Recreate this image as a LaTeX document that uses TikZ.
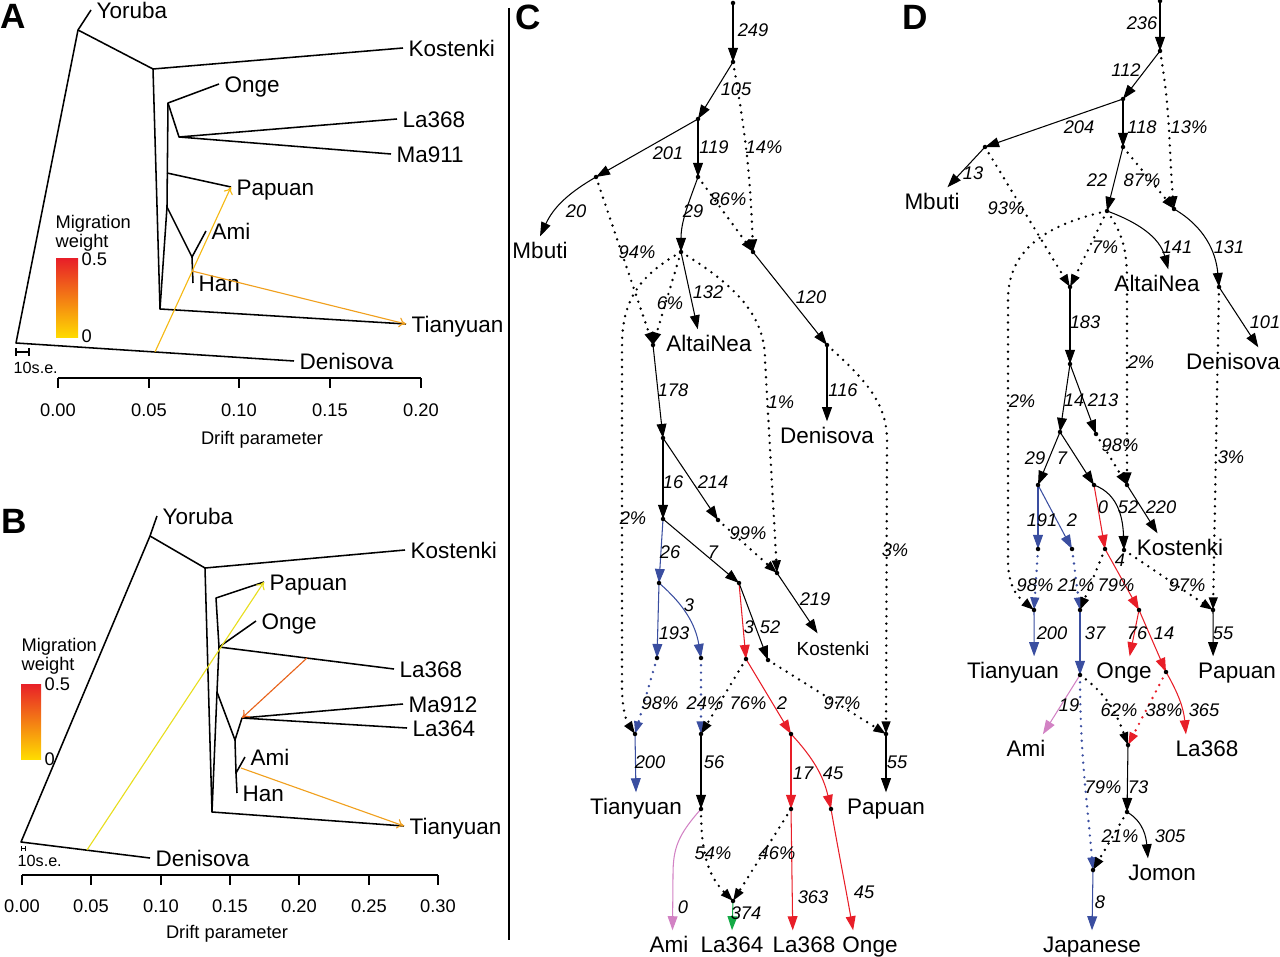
\documentclass[tikz,border=0pt]{standalone}
\usepackage{fontspec}
\setmainfont{Liberation Sans}
\usetikzlibrary{arrows.meta, positioning}
\definecolor{edgeblue}{RGB}{58,78,160}
\definecolor{edgered}{RGB}{232,30,40}
\definecolor{edgepink}{RGB}{210,130,196}
\definecolor{edgegreen}{RGB}{20,170,70}
\definecolor{migyellow}{RGB}{245,185,20}
\definecolor{migorange}{RGB}{240,160,30}
\definecolor{limeyellow}{RGB}{232,222,30}
\definecolor{migred}{RGB}{232,100,28}
\definecolor{barred}{RGB}{232,32,40}
\definecolor{baryellow}{RGB}{255,220,0}

\begin{document}
\begin{tikzpicture}[
  x=0.025cm, y=-0.025cm,
  font       = \fontsize{16}{18}\selectfont,
  % pixel grid of the figure: 1 unit = 1 px, y grows downwards
  panel/.style  = {font=\fontsize{25}{25}\selectfont\bfseries, inner sep=0pt},
  taxon/.style  = {inner sep=1pt, outer sep=3pt, text height=11.5pt, text depth=0pt},
  branch/.style = {line width=1.1pt, line join=round},
  migr/.style   = {line width=0.8pt, -{To[length=5pt,width=7pt]}},
  small/.style  = {font=\fontsize{13}{13.5}\selectfont, inner sep=1pt},
  elab/.style   = {font=\fontsize{13}{15}\selectfont\itshape, inner sep=0pt},
  edge/.style   = {line width=0.75pt, -{Triangle[length=10pt,width=7pt]}},
  mix/.style    = {line width=1.9pt, line cap=round, dash pattern=on 0pt off 5.2pt,
                   -{Triangle[length=9pt,width=6pt]}},
]
\useasboundingbox (0,0) rectangle (1280,957);

% ── Panel A: TreeMix tree ──────────────────────────────────────────────
\node[panel] (pA) at (13,16) {A};
\coordinate (aRoot) at (16,343);
\coordinate (aYor)  at (78,30);
\coordinate (aKos)  at (153,69);
\coordinate (aTia)  at (160,309);
\coordinate (aAmi)  at (167,207);
\coordinate (aPap)  at (167,173);
\coordinate (aOng)  at (168,103);
\coordinate (aLa)   at (179,137);
\coordinate (aHan)  at (192,257);
\coordinate (aDenM) at (155,352);
\coordinate (aHanM) at (192,271);

\node[taxon, anchor=west] (yorA)   at (91,10)   {Yoruba};
\node[taxon, anchor=west] (kosA)   at (403,48)  {Kostenki};
\node[taxon, anchor=west] (ongA)   at (219,84)  {Onge};
\node[taxon, anchor=west] (la368A) at (397,119) {La368};
\node[taxon, anchor=west] (ma911A) at (391,154) {Ma911};
\node[taxon, anchor=west] (papA)   at (231,187) {Papuan};
\node[taxon, anchor=west] (amiA)   at (206,231) {Ami};
\node[taxon, anchor=west] (hanA)   at (193,283) {Han};
\node[taxon, anchor=west] (tiaA)   at (406,324) {Tianyuan};
\node[taxon, anchor=west] (denA)   at (294,361) {Denisova};

\draw[branch] (yorA.west) -- (aYor) -- (aRoot) -- (denA.west);
\draw[branch] (aYor) -- (aKos) -- (kosA.west);
\draw[branch] (aKos) -- (aTia) -- (tiaA.west);
\draw[branch] (aTia) -- (aAmi) -- (aOng) -- (ongA.west);
\draw[branch] (aOng) -- (aLa) -- (la368A.west);
\draw[branch] (aLa) -- (ma911A.west);
\draw[branch] (aPap) -- (papA.west);
\draw[branch] (aAmi) -- (aHan) -- (amiA.west);
\draw[branch] (aHan) -- (hanA.west);
\draw[migr, migyellow] (aDenM) -- (papA.west);
\draw[migr, migorange] (aHanM) -- (tiaA.west);

\shade[top color=barred, bottom color=baryellow] (56,259) rectangle (78,338);
\node[small, anchor=west] (barA1) at (80,259) {0.5};
\node[small, anchor=west] (barA0) at (80,336) {0};
\node[small, anchor=west, align=left] (migA) at (54,233) {Migration\\weight};

\draw[line width=0.8pt] (16,348) -- (16,356) (16,352) -- (29,352) (29,348) -- (29,356);
\node[small, anchor=west, font=\fontsize{11.5}{12}\selectfont] (seA) at (12,368) {10s.e.};

\draw[branch] (58,378) -- (421,378);
\foreach \x/\t [count=\i] in {58/0.00, 149/0.05, 239/0.10, 330/0.15, 421/0.20}{
  \draw[branch] (\x,378) -- (\x,388);
  \node[small] (tickA\i) at (\x,410) {\t};
}
\node[small] (xlabA) at (262,440) {Drift parameter};

% ── Panel B: TreeMix tree, second set ──────────────────────────────────
\node[panel] (pB) at (14,521) {B};
\coordinate (bRoot) at (21,842);
\coordinate (bYor)  at (150,536);
\coordinate (bKos)  at (205,568);
\coordinate (bTia)  at (212,812);
\coordinate (bPap)  at (216,598);
\coordinate (bOng)  at (219,647);
\coordinate (bLow)  at (217,692);
\coordinate (bMid)  at (235,740);
\coordinate (bMa)   at (242,718);
\coordinate (bAmi)  at (236,773);
\coordinate (bDenM) at (87,850);
\coordinate (bLaM)  at (307,658);
\coordinate (bAmiM) at (241,768);

\node[taxon, anchor=west] (yorB)   at (157,516) {Yoruba};
\node[taxon, anchor=west] (kosB)   at (405,550) {Kostenki};
\node[taxon, anchor=west] (papB)   at (264,582) {Papuan};
\node[taxon, anchor=west] (ongB)   at (256,621) {Onge};
\node[taxon, anchor=west] (la368B) at (394,669) {La368};
\node[taxon, anchor=west] (ma912B) at (403,704) {Ma912};
\node[taxon, anchor=west] (la364B) at (407,728) {La364};
\node[taxon, anchor=west] (amiB)   at (245,757) {Ami};
\node[taxon, anchor=west] (hanB)   at (237,793) {Han};
\node[taxon, anchor=west] (tiaB)   at (404,826) {Tianyuan};
\node[taxon, anchor=west] (denB)   at (150,858) {Denisova};

\draw[branch] (yorB.west) -- (bYor) -- (bRoot) -- (denB.west);
\draw[branch] (bYor) -- (bKos) -- (kosB.west);
\draw[branch] (bKos) -- (bTia) -- (tiaB.west);
\draw[branch] (bTia) -- (bLow) -- (bOng) -- (bPap) -- (papB.west);
\draw[branch] (bOng) -- (ongB.west);
\draw[branch] (bOng) -- (la368B.west);
\draw[branch] (bLow) -- (bMid) -- (bMa) -- (ma912B.west);
\draw[branch] (bMa) -- (la364B.west);
\draw[branch] (bMid) -- (bAmi) -- (amiB.west);
\draw[branch] (bAmi) -- (hanB.west);
\draw[migr, limeyellow] (bDenM) -- (papB.west);
\draw[migr, migred] (bLaM) -- (bMa);
\draw[migr, migorange] (bAmiM) -- (tiaB.west);

\shade[top color=barred, bottom color=baryellow] (21,684) rectangle (41,759);
\node[small, anchor=west] (barB1) at (43,684) {0.5};
\node[small, anchor=west] (barB0) at (43,759) {0};
\node[small, anchor=west, align=left] (migB) at (20,656) {Migration\\weight};

\draw[line width=0.6pt] (21,846) -- (21,851) (21,848.5) -- (25,848.5) (25,846) -- (25,851);
\node[small, anchor=west, font=\fontsize{11.5}{12}\selectfont] (seB) at (16,861) {10s.e.};

\draw[branch] (22,875) -- (438,875);
\foreach \x/\t [count=\i] in {22/0.00, 91/0.05, 161/0.10, 230/0.15, 299/0.20, 369/0.25, 438/0.30}{
  \draw[branch] (\x,875) -- (\x,885);
  \node[small] (tickB\i) at (\x,906) {\t};
}
\node[small] (xlabB) at (227,934) {Drift parameter};

\draw[line width=1.2pt] (509,8) -- (509,940);

% ── Panel C: admixture graph ───────────────────────────────────────────
\node[panel] (pC) at (528,17) {C};
\coordinate (c0)  at (733,3);
\coordinate (c1)  at (733,62);
\coordinate (c2)  at (698,119);
\coordinate (c3)  at (596,177);
\coordinate (c4)  at (698,177);
\coordinate (c5)  at (753,252);
\coordinate (c6)  at (681,252);
\coordinate (c7)  at (653,345);
\coordinate (c8)  at (663,438);
\coordinate (c9)  at (663,519);
\coordinate (c10) at (718,520);
\coordinate (c11) at (827,345);
\coordinate (c12) at (777,573);
\coordinate (c13) at (659,583);
\coordinate (c14) at (739,583);
\coordinate (c15) at (657,658);
\coordinate (c16) at (701,658);
\coordinate (c17) at (746,659);
\coordinate (c18) at (768,660);
\coordinate (c19) at (635,734);
\coordinate (c20) at (701,734);
\coordinate (c21) at (791,734);
\coordinate (c22) at (886,734);
\coordinate (c23) at (701,809);
\coordinate (c24) at (791,809);
\coordinate (c25) at (831,809);
\coordinate (c26) at (733,901);

\node[taxon] (mbutiC) at (540,250) {Mbuti};
\node[taxon] (altaiC) at (709,343) {AltaiNea};
\node[taxon] (denC)   at (827,435) {Denisova};
\node[taxon, font=\fontsize{13.5}{15}\selectfont] (kosC) at (833,647) {Kostenki};
\node[taxon] (tiaC)   at (636,806) {Tianyuan};
\node[taxon] (papC)   at (886,806) {Papuan};
\node[taxon] (amiC)   at (669,944) {Ami};
\node[taxon] (la364C) at (732,944) {La364};
\node[taxon] (la368C) at (804,944) {La368};
\node[taxon] (ongeC)  at (870,944) {Onge};

\draw[edge] (c0) -- (c1);
\draw[edge] (c1) -- (c2);
\draw[mix]  (c1) to[out=-80,in=92] (c5);
\draw[edge] (c2) -- (c3);
\draw[edge] (c2) -- (c4);
\draw[edge] (c3) to[out=-150,in=65] (mbutiC.north);
\draw[mix]  (c3) -- (c7);
\draw[edge] (c4) to[out=-110,in=90] (c6);
\draw[mix]  (c4) -- (c5);
\draw[edge] (c5) -- (c11);
\draw[edge] (c6) -- ([xshift=-8pt]altaiC.north);
\draw[mix]  (c6) -- (c7);
\draw[mix]  (c6) .. controls (640,275) and (622,300) .. (622,345) -- (622,685)
            .. controls (622,712) and (627,722) .. (c19);
\draw[mix]  (c6) .. controls (735,285) and (765,315) .. (765,360) -- (c12);
\draw[edge] (c7) -- (c8);
\draw[edge] (c8) -- (c9);
\draw[edge] (c8) -- (c10);
\draw[mix]  (c10) -- (c12);
\draw[edge] (c12) -- ([xshift=-11pt]kosC.north);
\draw[edge] (c11) -- (denC.north);
\draw[mix]  (c11) .. controls (860,375) and (887,400) .. (887,440) -- (c22);
\draw[edge, edgeblue] (c9) -- (c13);
\draw[edge] (c9) -- (c14);
\draw[edge, edgeblue] (c13) -- (c15);
\draw[edge, edgeblue] (c13) to[bend left=20] (c16);
\draw[edge, edgered] (c14) -- (c17);
\draw[edge] (c14) -- (c18);
\draw[mix, edgeblue] (c15) -- (c19);
\draw[mix, edgeblue] (c16) -- (c20);
\draw[mix]  (c17) -- (c20);
\draw[edge, edgered] (c17) -- (c21);
\draw[mix]  (c18) -- (c22);
\draw[edge, edgeblue] (c19) -- (tiaC.north);
\draw[edge] (c20) -- (c23);
\draw[edge] (c22) -- (papC.north);
\draw[edge, edgered] (c21) -- (c24);
\draw[edge, edgered] (c21) to[bend left=15] (c25);
\draw[edge, edgepink] (c23) .. controls (678,835) and (673,848) .. (673,875) -- ([xshift=2.5pt]amiC.north);
\draw[mix]  (c23) to[out=-90,in=135] (c26);
\draw[mix]  (c24) -- (c26);
\draw[edge, edgegreen] (c26) -- (la364C.north);
\draw[edge, edgered] (c24) -- ([xshift=-8pt]la368C.north);
\draw[edge, edgered] (c25) to[out=-80,in=100] ([xshift=-12pt]ongeC.north);

\foreach \n in {c0,c1,c2,c3,c4,c5,c6,c7,c8,c9,c10,c11,c12,c13,c14,c15,c16,c17,
                c18,c19,c20,c21,c22,c23,c24,c25,c26}
  \fill (\n) circle (1.6pt);

\node[elab] (lc1)  at (753,30)  {249};
\node[elab] (lc2)  at (736,89)  {105};
\node[elab] (lc3)  at (764,147) {14\%};
\node[elab] (lc4)  at (668,153) {201};
\node[elab] (lc5)  at (714,147) {119};
\node[elab] (lc6)  at (576,211) {20};
\node[elab] (lc7)  at (637,252) {94\%};
\node[elab] (lc8)  at (693,211) {29};
\node[elab] (lc9)  at (728,199) {86\%};
\node[elab] (lc10) at (811,297) {120};
\node[elab] (lc11) at (708,292) {132};
\node[elab] (lc12) at (670,303) {6\%};
\node[elab] (lc13) at (673,390) {178};
\node[elab] (lc14) at (781,402) {1\%};
\node[elab] (lc15) at (843,390) {116};
\node[elab] (lc16) at (673,482) {16};
\node[elab] (lc17) at (713,482) {214};
\node[elab] (lc18) at (633,518) {2\%};
\node[elab] (lc19) at (748,533) {99\%};
\node[elab] (lc20) at (895,550) {3\%};
\node[elab] (lc21) at (670,552) {26};
\node[elab] (lc22) at (713,552) {7};
\node[elab] (lc23) at (815,599) {219};
\node[elab] (lc24) at (689,605) {3};
\node[elab] (lc25) at (674,633) {193};
\node[elab] (lc26) at (749,627) {3};
\node[elab] (lc27) at (770,627) {52};
\node[elab] (lc28) at (660,703) {98\%};
\node[elab] (lc29) at (705,703) {24\%};
\node[elab] (lc30) at (748,703) {76\%};
\node[elab] (lc31) at (782,703) {2};
\node[elab] (lc32) at (842,703) {97\%};
\node[elab] (lc33) at (650,762) {200};
\node[elab] (lc34) at (714,762) {56};
\node[elab] (lc35) at (897,762) {55};
\node[elab] (lc36) at (803,773) {17};
\node[elab] (lc37) at (833,773) {45};
\node[elab] (lc38) at (713,853) {54\%};
\node[elab] (lc39) at (777,853) {46\%};
\node[elab] (lc40) at (683,907) {0};
\node[elab] (lc41) at (746,913) {374};
\node[elab] (lc42) at (813,897) {363};
\node[elab] (lc43) at (864,892) {45};

% ── Panel D: admixture graph with Jomon and Japanese ───────────────────
\node[panel] (pD) at (915,17) {D};
\coordinate (d0)  at (1160,1);
\coordinate (d1)  at (1160,51);
\coordinate (d2)  at (1123,99);
\coordinate (d3)  at (985,147);
\coordinate (d4)  at (1123,147);
\coordinate (d5)  at (1174,209);
\coordinate (d6)  at (1107,211);
\coordinate (d7)  at (1070,287);
\coordinate (d8)  at (1219,287);
\coordinate (d9)  at (1070,364);
\coordinate (d10) at (1060,432);
\coordinate (d11) at (1096,434);
\coordinate (d12) at (1127,485);
\coordinate (d13) at (1038,485);
\coordinate (d14) at (1094,485);
\coordinate (d15) at (1038,549);
\coordinate (d16) at (1072,549);
\coordinate (d17) at (1105,549);
\coordinate (d18) at (1124,550);
\coordinate (d19) at (1034,610);
\coordinate (d20) at (1080,610);
\coordinate (d21) at (1139,610);
\coordinate (d22) at (1213,610);
\coordinate (d23) at (1080,675);
\coordinate (d24) at (1166,672);
\coordinate (d25) at (1128,745);
\coordinate (d26) at (1127,812);
\coordinate (d27) at (1093,870);

\node[taxon] (mbutiD) at (932,201)  {Mbuti};
\node[taxon] (altaiD) at (1157,283) {AltaiNea};
\node[taxon] (denD)   at (1233,361) {Denisova};
\node[taxon] (kosD)   at (1180,547) {Kostenki};
\node[taxon] (tiaD)   at (1013,670) {Tianyuan};
\node[taxon] (ongeD)  at (1124,670) {Onge};
\node[taxon] (papD)   at (1237,670) {Papuan};
\node[taxon] (amiD)   at (1026,748) {Ami};
\node[taxon] (la368D) at (1207,748) {La368};
\node[taxon] (jomonD) at (1162,872) {Jomon};
\node[taxon] (japD)   at (1092,944) {Japanese};

\draw[edge] (d0) -- (d1);
\draw[edge] (d1) -- (d2);
\draw[mix]  (d1) to[out=-80,in=95] (d5);
\draw[edge] (d2) -- (d3);
\draw[edge] (d2) -- (d4);
\draw[edge] (d3) -- ([xshift=11pt]mbutiD.north);
\draw[mix]  (d3) -- (d7);
\draw[edge] (d4) -- (d6);
\draw[mix]  (d4) -- (d5);
\draw[edge] (d6) to[out=-20,in=105] ([xshift=8pt]altaiD.north);
\draw[mix]  (d6) -- (d7);
\draw[mix]  (d6) .. controls (1045,225) and (1008,250) .. (1008,300) -- (1008,560)
            .. controls (1008,592) and (1022,600) .. (d19);
\draw[mix]  (d6) .. controls (1120,230) and (1127,245) .. (1127,280) -- (d12);
\draw[edge] (d5) to[out=-30,in=95] (d8);
\draw[edge] (d8) -- ([xshift=18pt]denD.north);
\draw[mix]  (d8) -- (d22);
\draw[edge] (d7) -- (d9);
\draw[edge] (d9) -- (d10);
\draw[edge] (d9) -- (d11);
\draw[mix]  (d11) -- (d12);
\draw[edge] (d12) -- ([xshift=-16pt]kosD.north);
\draw[edge] (d10) -- (d13);
\draw[edge] (d10) -- (d14);
\draw[edge, edgeblue] (d13) -- (d15);
\draw[edge, edgeblue] (d13) -- (d16);
\draw[edge, edgered] (d14) -- (d17);
\draw[edge] (d14) to[out=-20,in=92] (d18);
\draw[mix, edgeblue] (d15) -- (d19);
\draw[mix, edgeblue] (d16) -- (d20);
\draw[mix]  (d17) -- (d20);
\draw[mix]  (d18) -- (d22);
\draw[edge, edgered] (d17) -- (d21);
\draw[edge, edgeblue] (d19) -- ([xshift=15pt]tiaD.north);
\draw[edge, edgeblue] (d20) -- (d23);
\draw[edge, edgered] (d21) -- ([xshift=4pt]ongeD.north);
\draw[edge, edgered] (d21) -- (d24);
\draw[edge] (d22) -- ([xshift=-17pt]papD.north);
\draw[edge, edgepink] (d23) -- ([xshift=12pt]amiD.north);
\draw[mix]  (d23) to[out=-35,in=110] (d25);
\draw[mix, edgeblue] (d23) to[out=-90,in=95] (d27);
\draw[mix, edgered] (d24) -- (d25);
\draw[edge, edgered] (d24) to[out=-60,in=95] ([xshift=-15pt]la368D.north);
\draw[edge] (d25) -- (d26);
\draw[edge] (d26) to[out=-30,in=95] ([xshift=-10pt]jomonD.north);
\draw[mix]  (d26) -- (d27);
\draw[edge, edgeblue] (d27) -- (japD.north);

\foreach \n in {d0,d1,d2,d3,d4,d5,d6,d7,d8,d9,d10,d11,d12,d13,d14,d15,d16,d17,
                d18,d19,d20,d21,d22,d23,d24,d25,d26,d27}
  \fill (\n) circle (1.6pt);

\node[elab] (ld1)  at (1142,23)  {236};
\node[elab] (ld2)  at (1126,70)  {112};
\node[elab] (ld3)  at (1189,127) {13\%};
\node[elab] (ld4)  at (1079,127) {204};
\node[elab] (ld5)  at (1142,127) {118};
\node[elab] (ld6)  at (973,173)  {13};
\node[elab] (ld7)  at (1006,208) {93\%};
\node[elab] (ld8)  at (1097,180) {22};
\node[elab] (ld9)  at (1142,180) {87\%};
\node[elab] (ld10) at (1177,247) {141};
\node[elab] (ld11) at (1105,247) {7\%};
\node[elab] (ld12) at (1229,247) {131};
\node[elab] (ld13) at (1265,322) {101};
\node[elab] (ld14) at (1085,322) {183};
\node[elab] (ld15) at (1141,362) {2\%};
\node[elab] (ld16) at (1022,401) {2\%};
\node[elab] (ld17) at (1074,400) {14};
\node[elab] (ld18) at (1103,400) {213};
\node[elab] (ld19) at (1120,445) {98\%};
\node[elab] (ld20) at (1231,457) {3\%};
\node[elab] (ld21) at (1035,458) {29};
\node[elab] (ld22) at (1062,458) {7};
\node[elab] (ld23) at (1103,507) {0};
\node[elab] (ld24) at (1128,507) {52};
\node[elab] (ld25) at (1161,507) {220};
\node[elab] (ld26) at (1042,520) {191};
\node[elab] (ld27) at (1072,520) {2};
\node[elab] (ld28) at (1120,560) {4};
\node[elab] (ld29) at (1035,585) {98\%};
\node[elab] (ld30) at (1076,585) {21\%};
\node[elab] (ld31) at (1116,585) {79\%};
\node[elab] (ld32) at (1187,585) {97\%};
\node[elab] (ld33) at (1052,633) {200};
\node[elab] (ld34) at (1095,633) {37};
\node[elab] (ld35) at (1137,633) {76};
\node[elab] (ld36) at (1164,633) {14};
\node[elab] (ld37) at (1223,633) {55};
\node[elab] (ld38) at (1069,705) {19};
\node[elab] (ld39) at (1119,710) {62\%};
\node[elab] (ld40) at (1164,710) {38\%};
\node[elab] (ld41) at (1204,710) {365};
\node[elab] (ld42) at (1103,787) {79\%};
\node[elab] (ld43) at (1138,787) {73};
\node[elab] (ld44) at (1120,836) {21\%};
\node[elab] (ld45) at (1170,836) {305};
\node[elab] (ld46) at (1100,902) {8};

\end{tikzpicture}
\end{document}
